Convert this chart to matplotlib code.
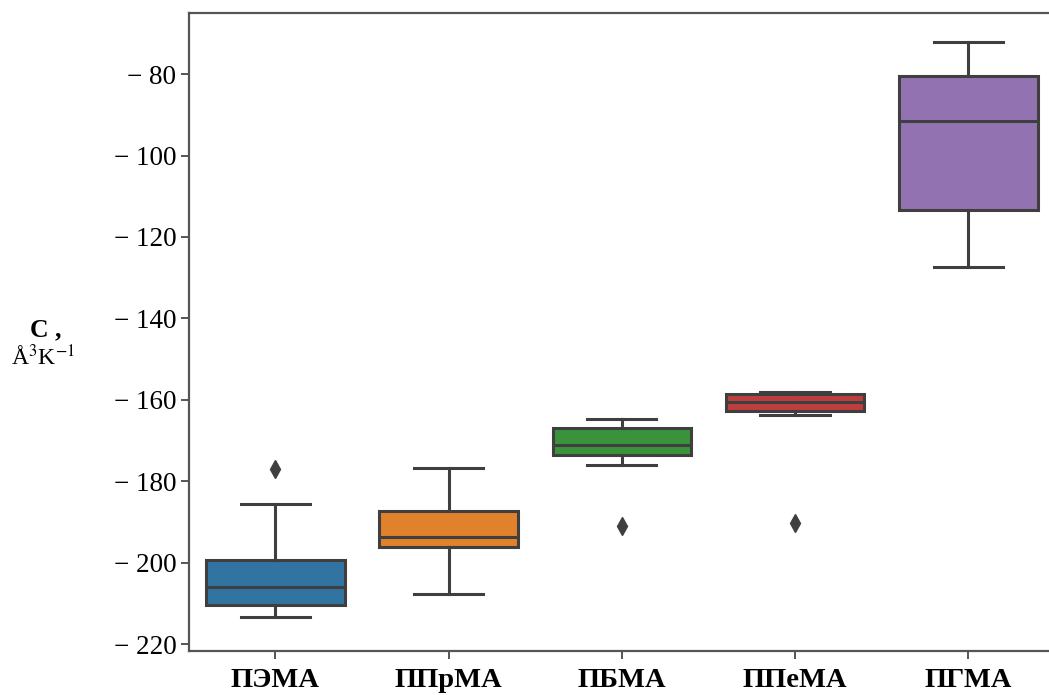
import matplotlib
matplotlib.use("Agg")
import matplotlib.pyplot as plt

# значения (квартили, усы, выбросы)
names = ["ПЭМА", "ППрМА", "ПБМА", "ППеМА", "ПГМА"]
whis_lo = [-213.3, -207.6, -176.0, -163.7, -127.3]
q1 = [-210.5, -196.1, -173.5, -162.7, -113.4]
med = [-206.1, -193.6, -171.0, -160.5, -91.5]
q3 = [-199.4, -187.2, -166.9, -158.5, -80.5]
whis_hi = [-185.5, -176.7, -164.7, -158.0, -72.1]
fliers = [[-177.0], [], [-191.0], [-190.2], []]

colors = ["#3274a1", "#e1812c", "#3a923a", "#c03d3e", "#9372b2"]
yticks = [-80, -100, -120, -140, -160, -180, -200, -220]

plt.rcParams["mathtext.fontset"] = "stix"
serif = ["Liberation Serif", "DejaVu Serif"]
line_c = "#3f3f3f"

stats = []
for i in range(len(names)):
    stats.append({"whislo": whis_lo[i], "q1": q1[i], "med": med[i],
                  "q3": q3[i], "whishi": whis_hi[i], "fliers": fliers[i],
                  "label": names[i]})

fig = plt.figure(figsize=(10.49, 6.95), dpi=100)
ax = fig.add_axes([0.180, 0.0633, 0.8256, 0.918])

bp = ax.bxp(stats, positions=range(len(names)), widths=0.8, patch_artist=True,
            boxprops=dict(edgecolor=line_c, linewidth=2.2),
            medianprops=dict(color=line_c, linewidth=2.2),
            whiskerprops=dict(color=line_c, linewidth=2.2),
            capprops=dict(color=line_c, linewidth=2.2),
            flierprops=dict(marker="d", markerfacecolor=line_c,
                            markeredgecolor=line_c, markersize=9))
for patch, c in zip(bp["boxes"], colors):
    patch.set_facecolor(c)

# усы короче ящика, как в seaborn
for cap in bp["caps"]:
    xd = cap.get_xdata()
    mid = (xd[0] + xd[1]) / 2
    cap.set_xdata([mid - 0.2, mid + 0.2])

ax.set_xlim(-0.5, 4.5)
ax.set_ylim(-221.7, -65)
ax.set_yticks(yticks)
ax.set_yticklabels(["\u2212 %d" % abs(v) for v in yticks], family=serif, fontsize=19.5)
ax.set_xticks(range(len(names)))
ax.set_xticklabels(names, family=serif, fontsize=20.5, fontweight="bold")

for s in ax.spines.values():
    s.set_color("#555555")
    s.set_linewidth(1.6)
ax.tick_params(length=6, width=1.4, color="#555555", pad=3)
ax.tick_params(axis="x", pad=6)

fig.text(0.044, 0.526, "C ,", family=serif, fontsize=18.5, fontweight="bold",
         ha="center", va="center")
fig.text(0.041, 0.486, r"Å$^{3}$K$^{-1}$", family=serif, fontsize=17,
         ha="center", va="center")

fig.savefig("out.png", dpi=100)
